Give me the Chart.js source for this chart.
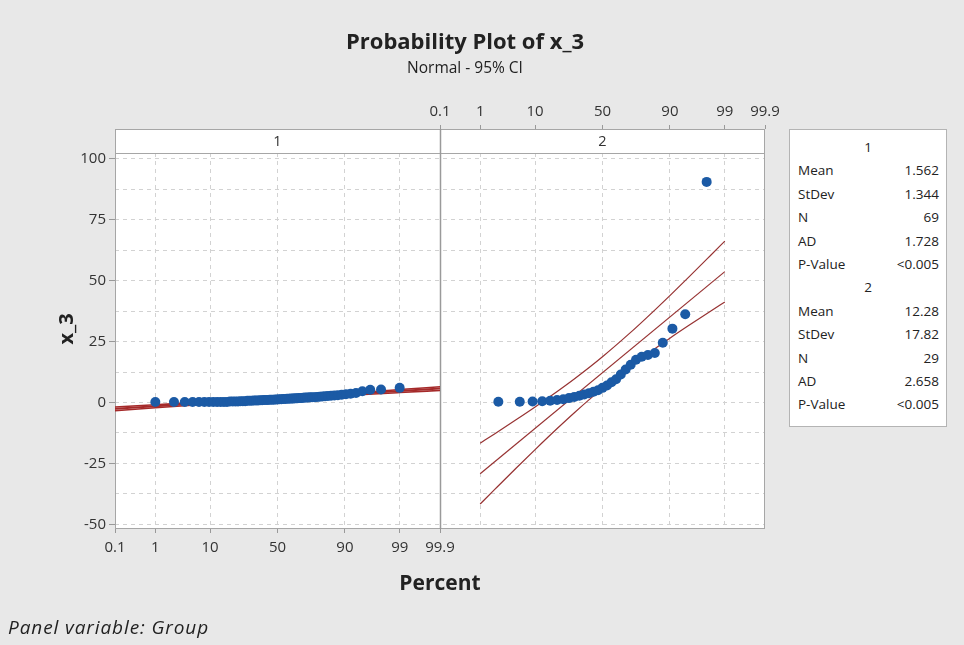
<!DOCTYPE html>
<html>
<head>
<meta charset="utf-8">
<script src="https://cdn.jsdelivr.net/npm/chart.js@4.4.1/dist/chart.umd.min.js"></script>
<style>
  body { margin: 0; background: #fff; }
  #wrap { position: relative; width: 964px; height: 645px; background: #e8e8e8; font-family: 'Open Sans', sans-serif; color: #222; overflow: hidden; }
  #chart { position: absolute; left: 0; top: 0; }
  .title { position: absolute; left: 0; width: 930px; text-align: center; }
  #legend { position: absolute; left: 789px; top: 129px; width: 156px; height: 290px; background: #fff; border: 1px solid #b4b4b4; padding-top: 6px; box-sizing: content-box; font-size: 13.5px; }
  #legend .row { display: flex; justify-content: space-between; height: 23.4px; line-height: 23.4px; padding: 0 7px 0 8px; }
  #legend .head { text-align: center; height: 23.4px; line-height: 23.4px; }
  #foot { position: absolute; left: 8px; top: 615px; font-style: italic; font-size: 19px; letter-spacing: 0.9px; line-height: 24px; }
</style>
</head>
<body>
<div id="wrap">
  <canvas id="chart" width="964" height="645"></canvas>
  <div class="title" style="top:25px;font-size:22px;font-weight:bold;line-height:30px;">Probability Plot of x_3</div>
  <div class="title" style="top:56px;font-size:15.5px;line-height:22px;">Normal - 95% CI</div>
  <div id="legend"></div>
  <div id="foot">Panel variable: Group</div>
</div>
<script>
// percent ticks of the normal probability axis
var percentTicks = [0.1, 1, 10, 50, 90, 99, 99.9];
var yTicks = [-50, -37.5, -25, -12.5, 0, 12.5, 25, 37.5, 50, 62.5, 75, 87.5, 100];
var panelLabels = ['1', '2'];

// sorted x_3 values
var group1Values = [0.2, 0.2, 0.2, 0.2, 0.2, 0.2, 0.2, 0.2, 0.2, 0.2, 0.2, 0.2,
  0.4, 0.4, 0.4, 0.4, 0.5, 0.5, 0.5, 0.7, 0.7, 0.7, 0.8, 0.8, 0.8, 0.9, 0.9,
  1.0, 1.0, 1.0, 1.1, 1.1, 1.1, 1.2, 1.2, 1.3, 1.3, 1.4, 1.4, 1.5, 1.5, 1.6, 1.6,
  1.7, 1.7, 1.8, 1.8, 1.9, 2.0, 2.0, 2.1, 2.2, 2.2, 2.3, 2.4, 2.5, 2.6, 2.7, 2.8,
  2.9, 3.0, 3.2, 3.4, 3.6, 3.9, 4.6, 5.2, 5.3, 6.0];
var group2Values = [0.3, 0.3, 0.4, 0.5, 0.7, 1.0, 1.3, 1.8, 2.3, 2.8, 3.3, 3.8, 4.4,
  5.0, 6.0, 7.0, 8.3, 9.5, 11.5, 13.5, 15.5, 17.5, 18.8, 19.5, 20.3, 24.5, 30.3, 36.2, 90.5];

// fitted line and 95% CI bands (percent -> x_3)
var fit1Pct = [0.1, 99.9];
var fit1 = [-2.59, 5.72];
var band1Pct = [0.1, 1, 10, 30, 50, 70, 90, 99, 99.9];
var band1Lower = [-3.35, -2.17, -0.59, 0.52, 1.25, 1.93, 2.86, 4.08, 4.95];
var band1Upper = [-1.83, -0.95, 0.27, 1.20, 1.88, 2.61, 3.71, 5.30, 6.48];

var fit2Pct = [1, 99];
var fit2 = [-29.2, 53.7];
var band2Pct = [1, 2, 5, 10, 20, 30, 50, 70, 80, 90, 95, 98, 99];
var band2Lower = [-41.65, -35.76, -26.98, -19.31, -10.27, -3.98, 5.79, 14.71, 19.73, 26.37, 31.64, 37.44, 41.25];
var band2Upper = [-16.69, -12.88, -7.08, -1.81, 4.83, 9.85, 18.77, 28.54, 34.83, 43.87, 51.54, 60.32, 66.21];

var statNames = ['Mean', 'StDev', 'N', 'AD', 'P-Value'];
var group1Stats = ['1.562', '1.344', '69', '1.728', '<0.005'];
var group2Stats = ['12.28', '17.82', '29', '2.658', '<0.005'];

// inverse normal cdf (Acklam)
function normInv(p) {
  var a = [-39.69683028665376, 220.9460984245205, -275.9285104469687, 138.3577518672690, -30.66479806614716, 2.506628274631000];
  var b = [-54.47609879822406, 161.5858368580409, -155.6989798598866, 66.80131188771972, -13.28068155288572];
  var c = [-0.007784894002430293, -0.3223964580411365, -2.400758277161838, -2.549732539343734, 4.374664141464968, 2.938163982698783];
  var d = [0.007784695709041462, 0.3224671290700398, 2.445134137142996, 3.754408661907416];
  var q, r;
  if (p < 0.02425) {
    q = Math.sqrt(-2 * Math.log(p));
    return (((((c[0]*q+c[1])*q+c[2])*q+c[3])*q+c[4])*q+c[5]) / ((((d[0]*q+d[1])*q+d[2])*q+d[3])*q+1);
  }
  if (p > 1 - 0.02425) {
    q = Math.sqrt(-2 * Math.log(1 - p));
    return -(((((c[0]*q+c[1])*q+c[2])*q+c[3])*q+c[4])*q+c[5]) / ((((d[0]*q+d[1])*q+d[2])*q+d[3])*q+1);
  }
  q = p - 0.5; r = q * q;
  return (((((a[0]*r+a[1])*r+a[2])*r+a[3])*r+a[4])*r+a[5])*q / (((((b[0]*r+b[1])*r+b[2])*r+b[3])*r+b[4])*r+1);
}
function zOf(pct) { return normInv(pct / 100); }

var zLo = zOf(0.1);
var panelW = -2 * zLo; // width of one panel in z units

// median ranks for the points
function rankPoints(vals, offset) {
  var n = vals.length;
  return vals.map(function (v, i) { return { x: offset + zOf(100 * (i + 0.7) / (n + 0.4)), y: v }; });
}
function curve(pcts, vals, offset) {
  return pcts.map(function (p, i) { return { x: offset + zOf(p), y: vals[i] }; });
}

var fam = "'Open Sans', sans-serif";
Chart.defaults.font.family = fam;
var lineCol = '#973232';
var gridCol = '#d2d2d2';

function lineSet(data, w, col) {
  return { data: data, showLine: true, pointRadius: 0, borderColor: col, borderWidth: w,
    cubicInterpolationMode: 'monotone', order: 2 };
}

var panelPlugin = {
  id: 'panels',
  beforeDraw: function (chart) {
    var a = chart.chartArea, ctx = chart.ctx;
    ctx.save();
    ctx.fillStyle = '#fff';
    ctx.fillRect(a.left, a.top, a.right - a.left, a.bottom - a.top);
    ctx.restore();
  },
  beforeDatasetsDraw: function (chart) {
    var a = chart.chartArea, ctx = chart.ctx, sx = chart.scales.x;
    var stripH = 23.5;
    var xd = Math.round(sx.getPixelForValue(zLo + panelW)) + 0.5;
    ctx.save();
    ctx.fillStyle = '#fff';
    ctx.fillRect(a.left, a.top, a.right - a.left, stripH);
    ctx.strokeStyle = '#a6a6a6';
    ctx.lineWidth = 1;
    ctx.beginPath();
    ctx.moveTo(a.left, Math.round(a.top + stripH) + 0.5);
    ctx.lineTo(a.right, Math.round(a.top + stripH) + 0.5);
    ctx.stroke();
    ctx.strokeRect(Math.round(a.left) + 0.5, Math.round(a.top) + 0.5, Math.round(a.right - a.left) - 1, Math.round(a.bottom - a.top) - 1);
    ctx.strokeStyle = '#9a9a9a';
    ctx.lineWidth = 1.5;
    ctx.beginPath();
    ctx.moveTo(xd, a.top);
    ctx.lineTo(xd, a.bottom);
    ctx.stroke();
    ctx.fillStyle = '#333';
    ctx.font = '14.5px ' + fam;
    ctx.textAlign = 'center';
    ctx.textBaseline = 'middle';
    panelLabels.forEach(function (lab, k) {
      var cx = sx.getPixelForValue(k * panelW);
      ctx.fillText(lab, cx, a.top + stripH / 2 + 1);
    });
    ctx.restore();
  }
};

function xAxis(pos, offset, h, withTitle) {
  return {
    type: 'linear', position: pos, min: zLo, max: zLo + 2 * panelW,
    afterBuildTicks: function (s) { s.ticks = percentTicks.map(function (p) { return { value: offset + zOf(p) }; }); },
    afterFit: function (s) { s.height = h; },
    ticks: { autoSkip: false, maxRotation: 0, padding: pos === 'bottom' ? 6 : 4, color: '#333', font: { size: 15 },
      callback: function (v, i) { return String(percentTicks[i]); } },
    grid: { color: function (c) { return (c.index === 0 || c.index === percentTicks.length - 1) ? 'rgba(0,0,0,0)' : gridCol; },
      lineWidth: 1, tickLength: 4, tickColor: '#999', tickBorderDash: [] },
    border: { display: false, dash: [4, 4] },
    title: withTitle ? { display: true, text: 'Percent', color: '#222', font: { size: 21, weight: 'bold' }, padding: { top: 0, bottom: 2 } } : { display: false }
  };
}

new Chart(document.getElementById('chart'), {
  type: 'scatter',
  data: {
    datasets: [
      { data: rankPoints(group1Values, 0), backgroundColor: '#1b5aa5', pointRadius: 5, pointBorderWidth: 0, order: 0 },
      { data: rankPoints(group2Values, panelW), backgroundColor: '#1b5aa5', pointRadius: 5, pointBorderWidth: 0, order: 0 },
      lineSet(curve(fit1Pct, fit1, 0), 2, '#a52a2a'),
      lineSet(curve(band1Pct, band1Lower, 0), 1.6, '#a52a2a'),
      lineSet(curve(band1Pct, band1Upper, 0), 1.6, '#a52a2a'),
      lineSet(curve(fit2Pct, fit2, panelW), 1.2, lineCol),
      lineSet(curve(band2Pct, band2Lower, panelW), 1.2, lineCol),
      lineSet(curve(band2Pct, band2Upper, panelW), 1.2, lineCol)
    ]
  },
  options: {
    responsive: false,
    animation: false,
    layout: { padding: { left: 55, right: 199, top: 104, bottom: 46 } },
    plugins: { legend: { display: false }, tooltip: { enabled: false } },
    scales: {
      x: xAxis('bottom', 0, 70, true),
      x2: xAxis('top', panelW, 25, false),
      y: {
        type: 'linear', min: -51.9, max: 112.2,
        afterBuildTicks: function (s) { s.ticks = yTicks.map(function (v) { return { value: v }; }); },
        afterFit: function (s) { s.width = 60; },
        ticks: { autoSkip: false, padding: 3, color: '#333', font: { size: 15 },
          callback: function (v) { return v % 25 === 0 ? String(v) : ''; } },
        grid: { color: gridCol, lineWidth: 1, tickLength: 6, tickBorderDash: [],
          tickColor: function (c) { return c.tick && c.tick.value % 25 === 0 ? '#999' : 'rgba(0,0,0,0)'; } },
        border: { display: false, dash: [4, 4] },
        title: { display: true, text: 'x_3', color: '#222', font: { size: 20, weight: 'bold' }, padding: { top: 0, bottom: 0 } }
      }
    }
  },
  plugins: [panelPlugin]
});

// statistics box
var legend = document.getElementById('legend');
[[panelLabels[0], group1Stats], [panelLabels[1], group2Stats]].forEach(function (g) {
  var h = document.createElement('div');
  h.className = 'head';
  h.textContent = g[0];
  legend.appendChild(h);
  statNames.forEach(function (name, i) {
    var r = document.createElement('div');
    r.className = 'row';
    var l = document.createElement('span'); l.textContent = name;
    var v = document.createElement('span'); v.textContent = g[1][i];
    r.appendChild(l); r.appendChild(v);
    legend.appendChild(r);
  });
});
</script>
</body>
</html>
